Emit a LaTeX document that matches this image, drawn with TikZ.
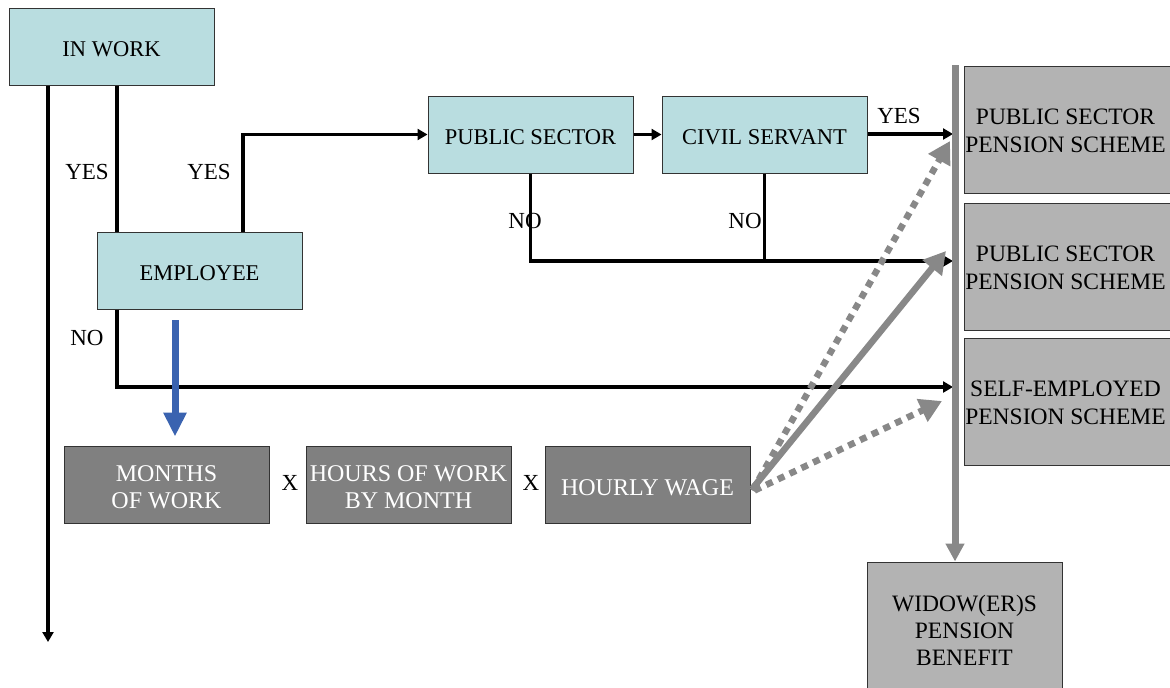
\documentclass[tikz,border=0pt]{standalone}
\usepackage{fontspec}
\setmainfont{Liberation Serif}
\usetikzlibrary{arrows.meta,calc}
\definecolor{boxblue}{HTML}{B9DDE0}
\definecolor{boxdark}{HTML}{808080}
\definecolor{boxgray}{HTML}{B3B3B3}
\definecolor{arrgray}{HTML}{888888}
\definecolor{arrblue}{HTML}{3A63B0}
\newcommand\dn[2][3pt]{\raisebox{-#1}[\height][\depth]{#2}}
\tikzset{
  base/.style={draw=black!80,line width=1pt,minimum width=205pt,minimum height=77pt,inner sep=0pt,align=center,font=\fontsize{22.5}{28}\selectfont},
  bluebox/.style={base,fill=boxblue},
  darkbox/.style={base,fill=boxdark,text=white,font=\fontsize{24}{27}\selectfont},
  graybox/.style={base,fill=boxgray,font=\fontsize{23.5}{28}\selectfont},
  blk/.style={line width=3.5pt,-{Triangle[length=10pt,width=11pt]}},
  blkl/.style={line width=3.5pt},
  garr/.style={line width=6.5pt,draw=arrgray,-{Triangle[length=22pt,width=24pt]}},
  gdot/.style={garr,dash pattern=on 7pt off 6pt},
  lbl/.style={font=\fontsize{23}{25}\selectfont,inner sep=0pt}
}
\begin{document}
\begin{tikzpicture}[x=1pt,y=-1pt]
\useasboundingbox (0,0) rectangle (1170,688);
% boxes
\node[bluebox] (inwork) at (111.5,46.5) {\dn{IN WORK}};
\node[bluebox] (employee) at (199.5,270.5) {\dn{EMPLOYEE}};
\node[bluebox] (ps) at (530.5,134.5) {\dn{PUBLIC SECTOR}};
\node[bluebox] (cs) at (764.5,134.5) {\dn{CIVIL SERVANT}};
\node[darkbox] (months) at (166.5,484.5) {\dn{MONTHS}\\\dn{OF WORK}};
\node[darkbox] (hours) at (408.5,484.5) {\dn{HOURS OF WORK}\\\dn{BY MONTH}};
\node[darkbox] (wage) at (647.5,484.5) {\dn{HOURLY WAGE}};
\node[graybox,minimum width=211pt,minimum height=127pt] (r1) at (1069.5,129.5) {\hspace*{-8pt}\dn[1pt]{PUBLIC SECTOR}\\\hspace*{-8pt}\dn[1pt]{PENSION SCHEME}};
\node[graybox,minimum width=211pt,minimum height=127pt] (r2) at (1069.5,266.5) {\hspace*{-8pt}\dn[1pt]{PUBLIC SECTOR}\\\hspace*{-8pt}\dn[1pt]{PENSION SCHEME}};
\node[graybox,minimum width=211pt,minimum height=127pt] (r3) at (1069.5,401.5) {\hspace*{-8pt}\dn[1pt]{SELF-EMPLOYED}\\\hspace*{-8pt}\dn[1pt]{PENSION SCHEME}};
\node[graybox,minimum width=195pt,minimum height=140pt,font=\fontsize{23.5}{27}\selectfont] (widow) at (964.5,632) {\dn[-2pt]{WIDOW(ER)S}\\\dn[-2pt]{PENSION}\\\dn[-2pt]{BENEFIT}};
% coordinates
\coordinate (downend) at (48,642);
\coordinate (xa) at (117,0);
\coordinate (xb) at (243,0);
\coordinate (bartop) at (955,65);
\coordinate (c1) at (953,134);
\coordinate (nojoin) at (953,261);
\coordinate (selfend) at (953,387);
\coordinate (bluestart) at (175,320);
% black connectors
\draw[blk] (inwork.south -| downend) -- (downend);
\draw[blkl] (inwork.south -| xa) -- (employee.north -| xa);
\draw[blk] (employee.north -| xb) |- (ps.west);
\draw[blk] (ps.east) -- (cs.west);
\draw[blk] (cs.east |- c1) -- (c1);
\draw[blk] (ps.south) |- (nojoin);
\draw[blkl] (cs.south) -- (cs.south |- nojoin);
\draw[blk] (employee.south -| xa) |- (selfend);
% blue arrow
\draw[line width=7pt,draw=arrblue,-{Triangle[length=24pt,width=22pt]},shorten >=9pt] (bluestart) -- (months.north -| bluestart);
% gray bar
\draw[line width=7pt,draw=arrgray,-{Triangle[length=18pt,width=18pt]}] (bartop) -- (widow.north -| bartop);
% gray arrows from wage
\draw[gdot] ($(wage.east)+(2,6)$) -- (950,141);
\draw[garr] ($(wage.east)+(2,4)$) -- (946,251);
\draw[gdot] ($(wage.east)+(4,6)$) -- (942,401);
% labels
\node[lbl] at (87,172) {YES};
\node[lbl] at (209,172) {YES};
\node[lbl] at (899,116) {YES};
\node[lbl] at (525,221) {NO};
\node[lbl] at (745,221) {NO};
\node[lbl] at (87,338) {NO};
\node[lbl] at (290,483) {X};
\node[lbl] at (531,483) {X};
\end{tikzpicture}
\end{document}
